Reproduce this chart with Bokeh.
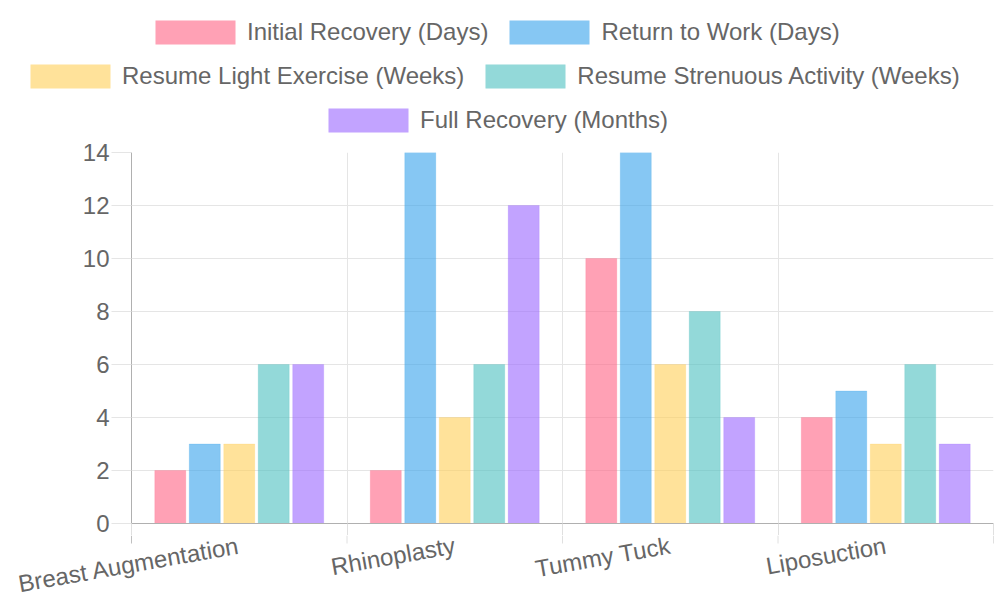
import numpy as np
from bokeh.plotting import figure
from bokeh.layouts import column, row
from bokeh.models import ColumnDataSource, Range1d, FixedTicker, Legend, LegendItem
from bokeh.transform import dodge
from bokeh.embed import file_html
from bokeh.resources import INLINE

categories = ["Breast Augmentation", "Rhinoplasty", "Tummy Tuck", "Liposuction"]
series_names = [
    "Initial Recovery (Days)",
    "Return to Work (Days)",
    "Resume Light Exercise (Weeks)",
    "Resume Strenuous Activity (Weeks)",
    "Full Recovery (Months)",
]
initial_recovery = [2, 2, 10, 4]
return_to_work = [3, 14, 14, 5]
light_exercise = [3, 4, 6, 3]
strenuous_activity = [6, 6, 8, 6]
full_recovery = [6, 12, 4, 3]
y_ticks = [0, 2, 4, 6, 8, 10, 12, 14]

series_values = [initial_recovery, return_to_work, light_exercise, strenuous_activity, full_recovery]
colors = ["#FF6384", "#36A2EB", "#FFCE56", "#4BC0C0", "#9966FF"]

n_cat = len(categories)
n_ser = len(series_names)
centers = np.arange(n_cat) + 0.5
bounds = np.arange(n_cat + 1)
data = {"x": centers}
for j, vals in enumerate(series_values):
    data[f"s{j}"] = vals
source = ColumnDataSource(data)

FONT = "Liberation Sans"
TXT = "#666666"
FS = "24px"

W = 998
LEFT, RIGHT = 131, 5
LEG_H = 142
TOP_B, FRAME_H, BOT_B = 10, 371, 12
P_H = TOP_B + FRAME_H + BOT_B
LAB_H = 600 - LEG_H - P_H
TICK_TOTAL = 20

p = figure(width=W, height=P_H, output_backend="svg", toolbar_location=None,
           x_range=Range1d(0, n_cat), y_range=Range1d(0, 14),
           min_border_left=LEFT, min_border_right=RIGHT,
           min_border_bottom=BOT_B, min_border_top=TOP_B)
p.outline_line_color = None

group = 0.8
step = group / n_ser
for j in range(n_ser):
    off = (j - (n_ser - 1) / 2) * step
    p.vbar(x=dodge("x", off), top=f"s{j}", width=step * 0.9, source=source,
           fill_color=colors[j], fill_alpha=0.6, line_color=colors[j], line_alpha=0.2, line_width=1)

# x axis: boundary ticks only (labels drawn in the strip below)
p.xaxis.ticker = FixedTicker(ticks=[], minor_ticks=list(bounds))
p.xaxis.major_tick_out = BOT_B
p.xaxis.major_tick_in = 0
p.xaxis.major_label_standoff = 0
p.xaxis.minor_tick_out = BOT_B
p.xaxis.minor_tick_in = 0
p.xaxis.minor_tick_line_color = "#E0E0E0"
p.xaxis.axis_line_color = "#B0B0B0"
p.xgrid.grid_line_color = None
p.xgrid.minor_grid_line_color = "#E5E5E5"

# y axis
p.yaxis.ticker = FixedTicker(ticks=y_ticks)
p.yaxis.major_tick_out = 20
p.yaxis.major_tick_in = 0
p.yaxis.major_tick_line_color = "#E5E5E5"
p.yaxis.minor_tick_line_color = None
p.yaxis.axis_line_color = "#B0B0B0"
p.yaxis.major_label_text_font = FONT
p.yaxis.major_label_text_font_size = FS
p.yaxis.major_label_text_color = TXT
p.yaxis.major_label_standoff = 2
p.ygrid.grid_line_color = "#E5E5E5"

# category label strip, sharing the x scale of the plot
px_per_unit = (W - LEFT - RIGHT) / n_cat
lb = figure(width=W, height=LAB_H, output_backend="svg", toolbar_location=None,
            x_range=Range1d(-LEFT / px_per_unit, n_cat + RIGHT / px_per_unit),
            y_range=Range1d(0, LAB_H),
            x_axis_location=None, y_axis_location=None, min_border=0)
lb.outline_line_color = None
lb.xgrid.grid_line_color = None
lb.ygrid.grid_line_color = None
tick_colors = ["#C0C0C0"] + ["#E0E0E0"] * n_cat
lb.segment(x0=bounds, y0=LAB_H, x1=bounds, y1=LAB_H - (TICK_TOTAL - BOT_B),
           line_color=tick_colors, line_width=1)
lb.text(x=centers, y=LAB_H - 9.5, text=categories, angle=np.deg2rad(10),
        text_align="right", text_baseline="alphabetic",
        text_font={"value": FONT}, text_font_size={"value": FS}, text_color=TXT)

# legend strip (bars drawn out of view so only the legend shows)
lf = figure(width=W, height=LEG_H, output_backend="svg", toolbar_location=None,
            x_range=Range1d(100, 101), y_range=Range1d(100, 101),
            x_axis_location=None, y_axis_location=None,
            min_border=0)
lf.outline_line_color = None
lf.xgrid.grid_line_color = None
lf.ygrid.grid_line_color = None
dummies = [lf.vbar(x="x", top=f"s{j}", width=0.1, source=source,
                   fill_color=c, fill_alpha=0.6, line_color=None) for j, c in enumerate(colors)]

rows = [[0, 1], [2, 3], [4]]
row_locs = [(145, 95), (20, 51), (318, 7)]
for items_idx, loc in zip(rows, row_locs):
    items = [LegendItem(label=series_names[j], renderers=[dummies[j]]) for j in items_idx]
    lg = Legend(items=items, orientation="horizontal", location=loc,
                glyph_width=100, glyph_height=30, label_standoff=2, spacing=11,
                padding=0, margin=0, border_line_color=None, background_fill_alpha=0,
                label_text_font=FONT, label_text_font_size=FS,
                label_text_color=TXT, label_height=30)
    lf.add_layout(lg, "center")

open("out.html", "w").write(file_html(column(row(lf), p, row(lb), spacing=0), INLINE))
